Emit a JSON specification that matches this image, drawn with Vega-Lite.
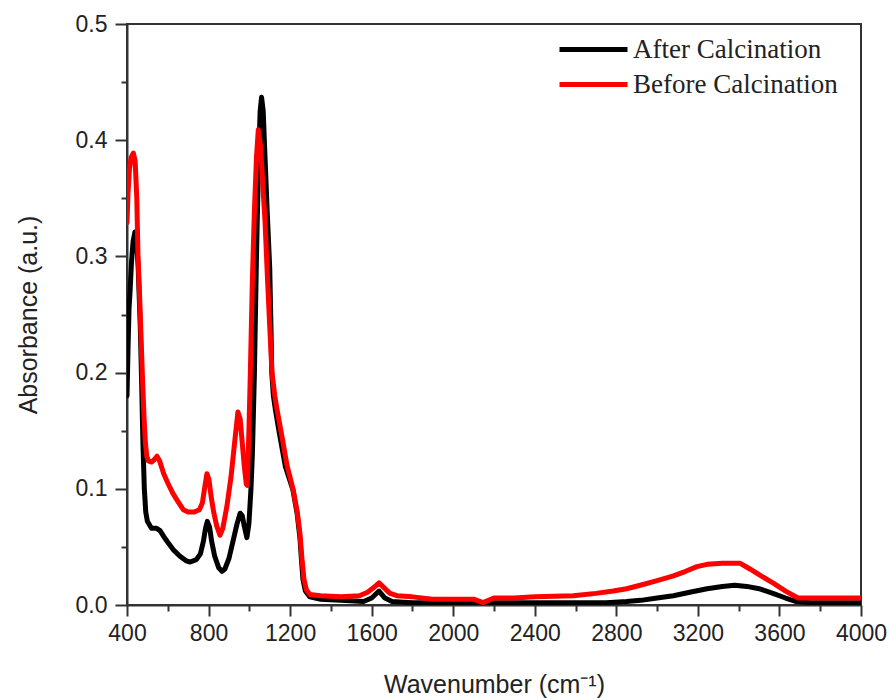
{
  "$schema": "https://vega.github.io/schema/vega-lite/v6.json",
  "width": 734,
  "height": 581,
  "autosize": "none",
  "padding": {"left": 127, "top": 24, "right": 30, "bottom": 95},
  "background": "white",
  "config": {
    "view": {"stroke": "#333", "strokeWidth": 2},
    "axis": {
      "domainColor": "#333", "domainWidth": 2, "tickColor": "#333", "tickWidth": 2,
      "labelColor": "#222", "labelFont": "Liberation Sans", "labelFontSize": 23,
      "titleFont": "Liberation Sans", "titleFontSize": 25, "titleFontWeight": "normal", "titleColor": "#222",
      "grid": false
    }
  },
  "data": {"values": [
    {"s":"After Calcination","w":400,"a":0.180},{"s":"After Calcination","w":405,"a":0.220},{"s":"After Calcination","w":410,"a":0.255},{"s":"After Calcination","w":415,"a":0.270},{"s":"After Calcination","w":422,"a":0.295},{"s":"After Calcination","w":430,"a":0.313},{"s":"After Calcination","w":439,"a":0.321},{"s":"After Calcination","w":447,"a":0.314},{"s":"After Calcination","w":455,"a":0.290},{"s":"After Calcination","w":465,"a":0.240},{"s":"After Calcination","w":472,"a":0.190},{"s":"After Calcination","w":478,"a":0.140},{"s":"After Calcination","w":485,"a":0.100},{"s":"After Calcination","w":492,"a":0.080},{"s":"After Calcination","w":500,"a":0.072},{"s":"After Calcination","w":520,"a":0.066},{"s":"After Calcination","w":545,"a":0.066},{"s":"After Calcination","w":562,"a":0.064},{"s":"After Calcination","w":580,"a":0.059},{"s":"After Calcination","w":600,"a":0.054},{"s":"After Calcination","w":630,"a":0.047},{"s":"After Calcination","w":660,"a":0.042},{"s":"After Calcination","w":690,"a":0.038},{"s":"After Calcination","w":710,"a":0.037},{"s":"After Calcination","w":740,"a":0.039},{"s":"After Calcination","w":760,"a":0.044},{"s":"After Calcination","w":775,"a":0.055},{"s":"After Calcination","w":785,"a":0.066},{"s":"After Calcination","w":794,"a":0.072},{"s":"After Calcination","w":805,"a":0.067},{"s":"After Calcination","w":815,"a":0.055},{"s":"After Calcination","w":830,"a":0.042},{"s":"After Calcination","w":850,"a":0.032},{"s":"After Calcination","w":866,"a":0.029},{"s":"After Calcination","w":880,"a":0.031},{"s":"After Calcination","w":900,"a":0.040},{"s":"After Calcination","w":920,"a":0.055},{"s":"After Calcination","w":940,"a":0.070},{"s":"After Calcination","w":955,"a":0.079},{"s":"After Calcination","w":965,"a":0.077},{"s":"After Calcination","w":975,"a":0.068},{"s":"After Calcination","w":988,"a":0.058},{"s":"After Calcination","w":998,"a":0.070},{"s":"After Calcination","w":1008,"a":0.100},{"s":"After Calcination","w":1015,"a":0.130},{"s":"After Calcination","w":1025,"a":0.200},{"s":"After Calcination","w":1035,"a":0.300},{"s":"After Calcination","w":1045,"a":0.380},{"s":"After Calcination","w":1053,"a":0.425},{"s":"After Calcination","w":1060,"a":0.437},{"s":"After Calcination","w":1068,"a":0.425},{"s":"After Calcination","w":1077,"a":0.385},{"s":"After Calcination","w":1088,"a":0.337},{"s":"After Calcination","w":1100,"a":0.290},{"s":"After Calcination","w":1106,"a":0.240},{"s":"After Calcination","w":1110,"a":0.200},{"s":"After Calcination","w":1118,"a":0.180},{"s":"After Calcination","w":1128,"a":0.168},{"s":"After Calcination","w":1145,"a":0.150},{"s":"After Calcination","w":1177,"a":0.119},{"s":"After Calcination","w":1214,"a":0.099},{"s":"After Calcination","w":1235,"a":0.078},{"s":"After Calcination","w":1248,"a":0.058},{"s":"After Calcination","w":1256,"a":0.038},{"s":"After Calcination","w":1263,"a":0.022},{"s":"After Calcination","w":1275,"a":0.012},{"s":"After Calcination","w":1297,"a":0.007},{"s":"After Calcination","w":1350,"a":0.005},{"s":"After Calcination","w":1450,"a":0.004},{"s":"After Calcination","w":1560,"a":0.003},{"s":"After Calcination","w":1600,"a":0.006},{"s":"After Calcination","w":1636,"a":0.012},{"s":"After Calcination","w":1665,"a":0.006},{"s":"After Calcination","w":1700,"a":0.003},{"s":"After Calcination","w":1800,"a":0.002},{"s":"After Calcination","w":2000,"a":0.002},{"s":"After Calcination","w":2200,"a":0.002},{"s":"After Calcination","w":2400,"a":0.002},{"s":"After Calcination","w":2600,"a":0.002},{"s":"After Calcination","w":2750,"a":0.002},{"s":"After Calcination","w":2850,"a":0.003},{"s":"After Calcination","w":2920,"a":0.004},{"s":"After Calcination","w":3000,"a":0.006},{"s":"After Calcination","w":3080,"a":0.008},{"s":"After Calcination","w":3160,"a":0.011},{"s":"After Calcination","w":3245,"a":0.014},{"s":"After Calcination","w":3320,"a":0.016},{"s":"After Calcination","w":3380,"a":0.017},{"s":"After Calcination","w":3440,"a":0.016},{"s":"After Calcination","w":3500,"a":0.014},{"s":"After Calcination","w":3568,"a":0.010},{"s":"After Calcination","w":3630,"a":0.006},{"s":"After Calcination","w":3683,"a":0.003},{"s":"After Calcination","w":3750,"a":0.002},{"s":"After Calcination","w":3850,"a":0.002},{"s":"After Calcination","w":4000,"a":0.002},
    {"s":"Before Calcination","w":400,"a":0.329},{"s":"Before Calcination","w":405,"a":0.355},{"s":"Before Calcination","w":412,"a":0.375},{"s":"Before Calcination","w":420,"a":0.385},{"s":"Before Calcination","w":431,"a":0.389},{"s":"Before Calcination","w":440,"a":0.382},{"s":"Before Calcination","w":448,"a":0.350},{"s":"Before Calcination","w":454,"a":0.300},{"s":"Before Calcination","w":462,"a":0.265},{"s":"Before Calcination","w":470,"a":0.225},{"s":"Before Calcination","w":477,"a":0.190},{"s":"Before Calcination","w":484,"a":0.160},{"s":"Before Calcination","w":490,"a":0.140},{"s":"Before Calcination","w":497,"a":0.128},{"s":"Before Calcination","w":505,"a":0.124},{"s":"Before Calcination","w":520,"a":0.123},{"s":"Before Calcination","w":533,"a":0.125},{"s":"Before Calcination","w":547,"a":0.128},{"s":"Before Calcination","w":560,"a":0.124},{"s":"Before Calcination","w":580,"a":0.113},{"s":"Before Calcination","w":600,"a":0.105},{"s":"Before Calcination","w":625,"a":0.096},{"s":"Before Calcination","w":650,"a":0.089},{"s":"Before Calcination","w":676,"a":0.082},{"s":"Before Calcination","w":700,"a":0.080},{"s":"Before Calcination","w":730,"a":0.080},{"s":"Before Calcination","w":755,"a":0.082},{"s":"Before Calcination","w":770,"a":0.088},{"s":"Before Calcination","w":782,"a":0.102},{"s":"Before Calcination","w":792,"a":0.113},{"s":"Before Calcination","w":802,"a":0.108},{"s":"Before Calcination","w":812,"a":0.094},{"s":"Before Calcination","w":825,"a":0.080},{"s":"Before Calcination","w":840,"a":0.068},{"s":"Before Calcination","w":856,"a":0.060},{"s":"Before Calcination","w":870,"a":0.066},{"s":"Before Calcination","w":890,"a":0.085},{"s":"Before Calcination","w":910,"a":0.110},{"s":"Before Calcination","w":928,"a":0.140},{"s":"Before Calcination","w":944,"a":0.166},{"s":"Before Calcination","w":955,"a":0.160},{"s":"Before Calcination","w":965,"a":0.140},{"s":"Before Calcination","w":975,"a":0.120},{"s":"Before Calcination","w":985,"a":0.104},{"s":"Before Calcination","w":990,"a":0.103},{"s":"Before Calcination","w":998,"a":0.150},{"s":"Before Calcination","w":1005,"a":0.200},{"s":"Before Calcination","w":1015,"a":0.280},{"s":"Before Calcination","w":1025,"a":0.340},{"s":"Before Calcination","w":1035,"a":0.385},{"s":"Before Calcination","w":1044,"a":0.409},{"s":"Before Calcination","w":1055,"a":0.395},{"s":"Before Calcination","w":1065,"a":0.365},{"s":"Before Calcination","w":1077,"a":0.330},{"s":"Before Calcination","w":1088,"a":0.285},{"s":"Before Calcination","w":1100,"a":0.240},{"s":"Before Calcination","w":1111,"a":0.200},{"s":"Before Calcination","w":1125,"a":0.180},{"s":"Before Calcination","w":1136,"a":0.168},{"s":"Before Calcination","w":1160,"a":0.145},{"s":"Before Calcination","w":1185,"a":0.120},{"s":"Before Calcination","w":1214,"a":0.100},{"s":"Before Calcination","w":1235,"a":0.080},{"s":"Before Calcination","w":1248,"a":0.062},{"s":"Before Calcination","w":1258,"a":0.040},{"s":"Before Calcination","w":1268,"a":0.022},{"s":"Before Calcination","w":1280,"a":0.013},{"s":"Before Calcination","w":1297,"a":0.009},{"s":"Before Calcination","w":1350,"a":0.008},{"s":"Before Calcination","w":1450,"a":0.007},{"s":"Before Calcination","w":1540,"a":0.008},{"s":"Before Calcination","w":1580,"a":0.011},{"s":"Before Calcination","w":1610,"a":0.015},{"s":"Before Calcination","w":1636,"a":0.019},{"s":"Before Calcination","w":1660,"a":0.015},{"s":"Before Calcination","w":1690,"a":0.010},{"s":"Before Calcination","w":1724,"a":0.008},{"s":"Before Calcination","w":1800,"a":0.007},{"s":"Before Calcination","w":1900,"a":0.005},{"s":"Before Calcination","w":2000,"a":0.005},{"s":"Before Calcination","w":2100,"a":0.005},{"s":"Before Calcination","w":2146,"a":0.002},{"s":"Before Calcination","w":2200,"a":0.006},{"s":"Before Calcination","w":2300,"a":0.006},{"s":"Before Calcination","w":2400,"a":0.007},{"s":"Before Calcination","w":2588,"a":0.008},{"s":"Before Calcination","w":2700,"a":0.010},{"s":"Before Calcination","w":2785,"a":0.012},{"s":"Before Calcination","w":2850,"a":0.014},{"s":"Before Calcination","w":2917,"a":0.017},{"s":"Before Calcination","w":3000,"a":0.021},{"s":"Before Calcination","w":3080,"a":0.025},{"s":"Before Calcination","w":3140,"a":0.029},{"s":"Before Calcination","w":3195,"a":0.033},{"s":"Before Calcination","w":3245,"a":0.035},{"s":"Before Calcination","w":3320,"a":0.036},{"s":"Before Calcination","w":3406,"a":0.036},{"s":"Before Calcination","w":3455,"a":0.031},{"s":"Before Calcination","w":3510,"a":0.025},{"s":"Before Calcination","w":3568,"a":0.019},{"s":"Before Calcination","w":3630,"a":0.012},{"s":"Before Calcination","w":3691,"a":0.006},{"s":"Before Calcination","w":3750,"a":0.006},{"s":"Before Calcination","w":3850,"a":0.006},{"s":"Before Calcination","w":4000,"a":0.006}
  ]},
  "mark": {"type": "line", "strokeWidth": 5, "strokeJoin": "round", "strokeCap": "round", "clip": true},
  "encoding": {
    "x": {
      "field": "w", "type": "quantitative",
      "scale": {"domain": [400, 4000], "nice": false, "zero": false},
      "axis": {
        "title": "Wavenumber (cm⁻¹)",
        "values": [400,600,800,1000,1200,1400,1600,1800,2000,2200,2400,2600,2800,3000,3200,3400,3600,3800,4000],
        "labelExpr": "datum.value % 400 === 0 ? datum.value : ''",
        "tickSize": {"condition": {"test": "datum.value % 400 === 0", "value": 11}, "value": 6},
        "labelPadding": 6,
        "titlePadding": 27,
        "labelFlush": false,
        "labelOverlap": false
      }
    },
    "y": {
      "field": "a", "type": "quantitative",
      "scale": {"domain": [0, 0.5], "nice": false},
      "axis": {
        "title": "Absorbance (a.u.)",
        "values": [0,0.05,0.1,0.15,0.2,0.25,0.3,0.35,0.4,0.45,0.5],
        "labelExpr": "round(datum.value * 100) % 10 === 0 ? format(datum.value, '.1f') : ''",
        "tickSize": {"condition": {"test": "round(datum.value * 100) % 10 === 0", "value": 12}, "value": 6},
        "labelPadding": 8,
        "titlePadding": 34,
        "labelFlush": false,
        "labelOverlap": false
      }
    },
    "color": {
      "field": "s", "type": "nominal",
      "scale": {"domain": ["After Calcination", "Before Calcination"], "range": ["#000000", "#ff0000"]},
      "legend": {
        "title": null,
        "orient": "none",
        "legendX": 453,
        "legendY": 12,
        "padding": 0,
        "symbolType": "M-4,0H4",
        "symbolSize": 289,
        "symbolStrokeWidth": 5,
        "labelOffset": 26,
        "labelFont": "Liberation Serif",
        "labelFontSize": 27,
        "labelColor": "#222",
        "rowPadding": 7,
        "labelLimit": 400
      }
    }
  }
}
